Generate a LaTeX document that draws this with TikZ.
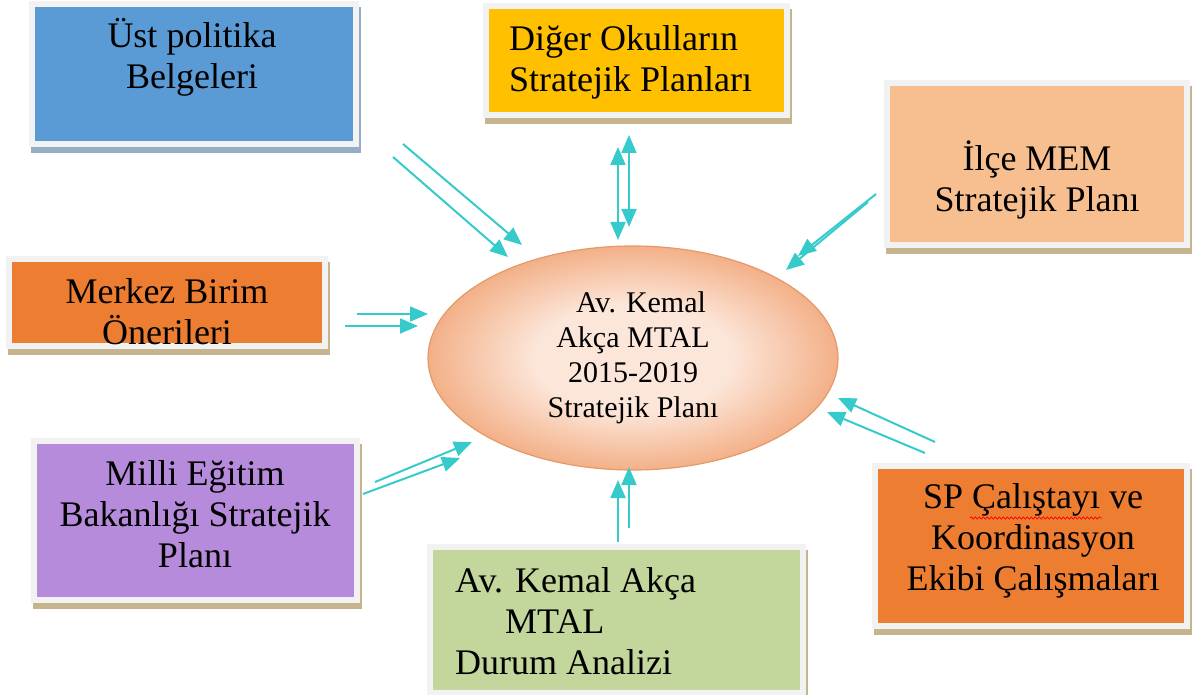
\documentclass[tikz,border=0pt]{standalone}
\usepackage{fontspec}
\setmainfont{Liberation Serif}
\usetikzlibrary{arrows.meta,shapes.geometric,decorations.pathmorphing}

\definecolor{arrowcyan}{HTML}{36CACA}
\definecolor{framegray}{HTML}{F2F2F2}
\definecolor{shadowtan}{HTML}{C6B48F}
\definecolor{shadowblue}{HTML}{97ACC5}
\definecolor{cBlue}{HTML}{5B9BD5}
\definecolor{cYellow}{HTML}{FFC000}
\definecolor{cPeach}{HTML}{F7BF90}
\definecolor{cOrange}{HTML}{ED7D31}
\definecolor{cPurple}{HTML}{B78BDC}
\definecolor{cGreen}{HTML}{C3D69B}
\definecolor{ellIn}{HTML}{FCE6D9}
\definecolor{ellOut}{HTML}{F3B088}
\definecolor{ellEdge}{HTML}{E49A68}

\pgfdeclareradialshading{eggshade}{\pgfpoint{0bp}{0bp}}{%
  color(0bp)=(ellIn); color(12bp)=(ellIn); color(25bp)=(ellOut); color(50bp)=(ellOut)}

\tikzset{
  card/.style={rectangle, inner sep=0pt, fill=#1, draw=framegray, line width=6pt},
  cardshadow/.style={preaction={draw=#1, fill=#1, line width=6pt,
      transform canvas={shift={(2pt,-6pt)}}}},
  lbl/.style={inner sep=0pt, align=center, font=\fontsize{36}{41}\selectfont},
  inlbl/.style={inner sep=0pt, align=center, font=\fontsize{30}{35}\selectfont},
  tip/.style={Triangle[length=18pt,width=15pt]},
  flow/.style={draw=arrowcyan, line width=2pt, -{Triangle[length=18pt,width=15pt]}},
  flowboth/.style={draw=arrowcyan, line width=2pt,
      {Triangle[length=18pt,width=15pt]}-{Triangle[length=18pt,width=15pt]}},
}

\begin{document}
\begin{tikzpicture}[x=1pt,y=-1pt]
\useasboundingbox (0,0) rectangle (1192,695);

% source boxes
\node[card=cBlue, cardshadow=shadowblue, minimum width=324pt, minimum height=140pt] (ust) at (194,74) {};
\node[lbl] (ustT) at (192,57) {Üst politika\\Belgeleri};

\node[card=cYellow, cardshadow=shadowtan, minimum width=301pt, minimum height=109pt] (diger) at (636.5,60.5) {};
\node[lbl, align=left, anchor=west] (digerT) at (509,62) {Diğer Okulların\\Stratejik Planları};

\node[card=cPeach, cardshadow=shadowtan, minimum width=300pt, minimum height=162pt] (ilce) at (1037,164) {};
\node[lbl] (ilceT) at (1037,180) {İlçe MEM\\Stratejik Planı};

\node[card=cOrange, cardshadow=shadowtan, minimum width=316pt, minimum height=87pt] (merkez) at (167,302.5) {};
\node[lbl] (merkezT) at (167,312) {Merkez Birim\\Önerileri};

\node[card=cPurple, cardshadow=shadowtan, minimum width=323pt, minimum height=159pt] (milli) at (195.5,520.5) {};
\node[lbl] (milliT) at (195,514) {Milli Eğitim\\Bakanlığı Stratejik\\Planı};

\node[card=cGreen, cardshadow=shadowtan, minimum width=373pt, minimum height=146pt] (durum) at (616.5,620) {};
\node[lbl, align=left, anchor=west] (durumT) at (455,621) {Av. Kemal Akça\\\hspace*{50pt}MTAL\\Durum Analizi};

\node[card=cOrange, cardshadow=shadowtan, minimum width=312pt, minimum height=160pt] (sp) at (1031,546) {};
\node[lbl] (spT) at (1033,541) {SP Çalıştayı ve\\Koordinasyon\\Ekibi Çalışmaları};
% spell-check underline
\draw[red, line width=0.7pt, decorate, decoration={snake, amplitude=1.1pt, segment length=4pt}]
  (970,518) -- (1102,518);

% central plan
\node[ellipse, minimum width=410pt, minimum height=224pt, draw=ellEdge, line width=1.2pt,
      shading=eggshade] (plan) at (633,358) {};
\node[inlbl] (planT) at (633,358) {\hspace*{16pt}Av. Kemal\\Akça MTAL\\2015-2019\\Stratejik Planı};

% arrow end points
\coordinate (a1s) at (403,144); \coordinate (a1e) at (522,245);
\coordinate (b1s) at (393,157); \coordinate (b1e) at (508,257);
\coordinate (a2s) at (618,147); \coordinate (a2e) at (618,240);
\coordinate (b2s) at (629,135); \coordinate (b2e) at (629,227);
\coordinate (a3s) at (876,194); \coordinate (a3e) at (798,256);
\coordinate (b3s) at (868,202); \coordinate (b3e) at (786,270);
\coordinate (a4s) at (357,314); \coordinate (a4e) at (428,314);
\coordinate (b4s) at (345,326); \coordinate (b4e) at (418,326);
\coordinate (a5s) at (375,482); \coordinate (a5e) at (472,442);
\coordinate (b5s) at (363,494); \coordinate (b5e) at (460,458);
\coordinate (a6s) at (618,542); \coordinate (a6e) at (618,480);
\coordinate (b6s) at (629,528); \coordinate (b6e) at (629,467);
\coordinate (a7s) at (935,442); \coordinate (a7e) at (838,398);
\coordinate (b7s) at (925,453); \coordinate (b7e) at (827,412);

% connectors
\draw[flow] (a1s) -- (a1e);
\draw[flow] (b1s) -- (b1e);
\draw[flowboth] (a2s) -- (a2e);
\draw[flowboth] (b2s) -- (b2e);
\draw[flow] (a3s) -- (a3e);
\draw[flow] (b3s) -- (b3e);
\draw[flow] (a4s) -- (a4e);
\draw[flow] (b4s) -- (b4e);
\draw[flow] (a5s) -- (a5e);
\draw[flow] (b5s) -- (b5e);
\draw[flow] (a6s) -- (a6e);
\draw[flow] (b6s) -- (b6e);
\draw[flow] (a7s) -- (a7e);
\draw[flow] (b7s) -- (b7e);
\end{tikzpicture}
\end{document}
